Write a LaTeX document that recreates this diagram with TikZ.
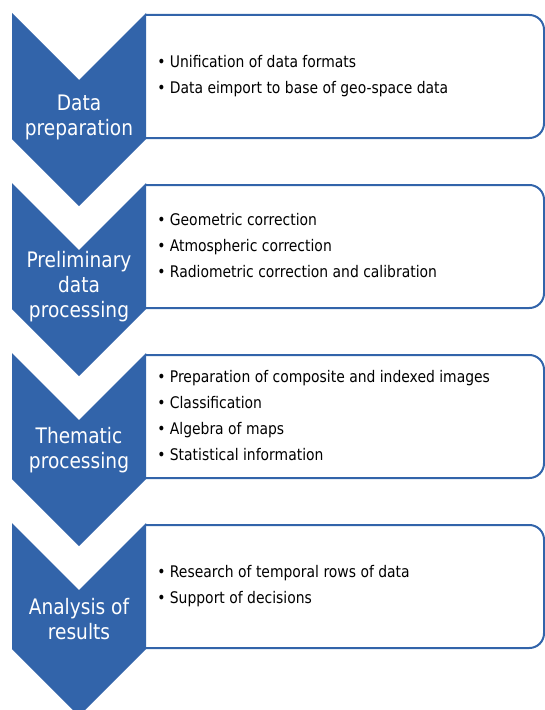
\documentclass[tikz,border=0pt]{standalone}
\usepackage{fontspec}
\setmainfont{DejaVu Sans}[FakeStretch=0.87]
\definecolor{stageblue}{RGB}{50,100,170}

\begin{document}
\begin{tikzpicture}[%
      x=0.75pt, y=-0.75pt,
      stage/.style={fill=stageblue},
      stagebox/.style={draw=stageblue, line width=1.5pt, rounded corners=11pt},
      stagelabel/.style={text=white, align=center, inner sep=0pt, font=\fontsize{16}{18.75}\selectfont},
      itemlist/.style={anchor=west, align=left, inner sep=0pt, font=\fontsize{12}{19.5}\selectfont},
      ]
      \useasboundingbox (0,0) rectangle (545,710);

      \draw [stagebox] (145,15) -- (544,15) -- (544,138) -- (140,138);
      \draw [stagebox] (145,185) -- (544,185) -- (544,308) -- (140,308);
      \draw [stagebox] (145,355) -- (544,355) -- (544,478) -- (140,478);
      \draw [stagebox] (145,525) -- (544,525) -- (544,648) -- (140,648);

      \fill [stage] (12,13) -- (79,80) -- (146,13) -- (146,139) -- (79,206) -- (12,139) -- cycle;
      \fill [stage] (12,183) -- (79,250) -- (146,183) -- (146,309) -- (79,376) -- (12,309) -- cycle;
      \fill [stage] (12,353) -- (79,420) -- (146,353) -- (146,479) -- (79,546) -- (12,479) -- cycle;
      \fill [stage] (12,523) -- (79,590) -- (146,523) -- (146,649) -- (79,716) -- (12,649) -- cycle;

      \node [stagelabel] (prep) at (79,117) {Data\\preparation};
      \node [stagelabel] (prelim) at (79,287) {Preliminary\\data\\processing};
      \node [stagelabel] (thematic) at (79,450) {Thematic\\processing};
      \node [stagelabel] (analysis) at (79,619) {Analysis of\\results};

      \node [itemlist] (prepitems) at (157,76) {%
        \textbullet\ Unification of data formats\\
        \textbullet\ Data eimport to base of geo-space data};
      \node [itemlist] (prelimitems) at (157,246) {%
        \textbullet\ Geometric correction\\
        \textbullet\ Atmospheric correction\\
        \textbullet\ Radiometric correction and calibration};
      \node [itemlist] (thematicitems) at (157,416) {%
        \textbullet\ Preparation of composite and indexed images\\
        \textbullet\ Classification\\
        \textbullet\ Algebra of maps\\
        \textbullet\ Statistical information};
      \node [itemlist] (analysisitems) at (157,586) {%
        \textbullet\ Research of temporal rows of data\\
        \textbullet\ Support of decisions};
\end{tikzpicture}
\end{document}
